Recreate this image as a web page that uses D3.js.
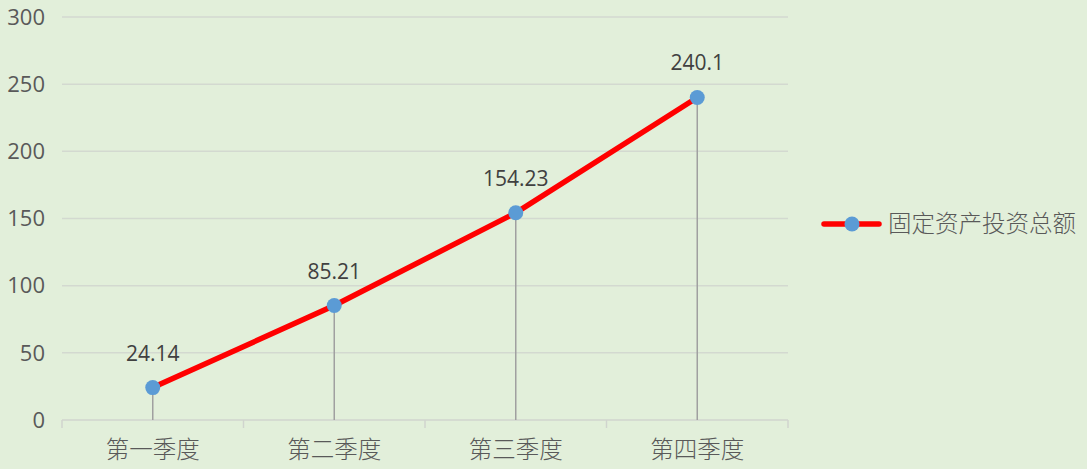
<!DOCTYPE html>
<html><head><meta charset="utf-8">
<script src="https://cdn.jsdelivr.net/npm/d3@7/dist/d3.min.js"></script>
<style>
html,body{margin:0;padding:0;background:#E2EFDA;}
svg{display:block;}
</style></head>
<body>
<svg id="chart" width="1087" height="469"></svg>
<script>
const categories = ["第一季度","第二季度","第三季度","第四季度"];
const values = [24.14, 85.21, 154.23, 240.1];
const labels = ["24.14","85.21","154.23","240.1"];
const yTicks = [0,50,100,150,200,250,300];
const seriesName = "固定资产投资总额";

const svg = d3.select("#chart");
svg.append("rect").attr("width",1087).attr("height",469).attr("fill","#E2EFDA");

const x = d3.scaleBand().domain(categories).range([62,788]);
const y = d3.scaleLinear().domain([0,300]).range([420,17]);

// gridlines
svg.append("g").selectAll("line").data(yTicks.filter(d=>d>0)).join("line")
  .attr("x1",62).attr("x2",788)
  .attr("y1",d=>y(d)).attr("y2",d=>y(d))
  .attr("stroke","#D3D9D0").attr("stroke-width",1.5);

// y labels
svg.append("g").selectAll("text").data(yTicks).join("text")
  .attr("x",45).attr("y",d=>y(d)).attr("dy","0.35em")
  .attr("text-anchor","end")
  .attr("font-family","'Open Sans','Noto Sans',sans-serif")
  .attr("font-size",22).attr("fill","#595959")
  .text(d=>d);

// x axis
const gx = svg.append("g").attr("transform","translate(0,420)");
gx.append("line").attr("x1",62).attr("x2",788).attr("stroke","#D0D4CE").attr("stroke-width",1.5);
const bounds = categories.map(c=>x(c)).concat([x.range()[1]]);
gx.selectAll("line.tk").data(bounds).join("line").attr("class","tk")
  .attr("x1",d=>d).attr("x2",d=>d).attr("y1",0).attr("y2",8)
  .attr("stroke","#D0D4CE").attr("stroke-width",1.5);
gx.selectAll("text").data(categories).join("text")
  .attr("x",d=>x(d)+x.bandwidth()/2).attr("y",38)
  .attr("text-anchor","middle")
  .attr("font-family","'Noto Sans CJK SC',sans-serif").attr("font-weight",300)
  .attr("font-size",23.5).attr("fill","#595959")
  .text(d=>d);

const cx = (d,i)=>x(categories[i])+x.bandwidth()/2;

// drop lines
svg.append("g").selectAll("line").data(values).join("line")
  .attr("x1",cx).attr("x2",cx).attr("y1",d=>y(d)).attr("y2",y(0))
  .attr("stroke","#A0A0A0").attr("stroke-width",1.5);

// line
const line = d3.line().x((d,i)=>cx(d,i)).y(d=>y(d));
svg.append("path").datum(values).attr("d",line)
  .attr("fill","none").attr("stroke","#FF0000").attr("stroke-width",5.5).attr("stroke-linecap","round");

// markers
svg.append("g").selectAll("circle").data(values).join("circle")
  .attr("cx",cx).attr("cy",d=>y(d)).attr("r",7.5).attr("fill","#5B9BD5");

// data labels
svg.append("g").selectAll("text").data(values).join("text")
  .attr("x",cx).attr("y",d=>y(d)-27)
  .attr("text-anchor","middle")
  .attr("font-family","'Open Sans','Noto Sans',sans-serif")
  .attr("font-size",21).attr("fill","#404040")
  .text((d,i)=>labels[i]);

// legend
const lg = svg.append("g").attr("transform","translate(0,224)");
lg.append("line").attr("x1",824).attr("x2",879).attr("y1",0).attr("y2",0)
  .attr("stroke","#FF0000").attr("stroke-width",5.5).attr("stroke-linecap","round");
lg.append("circle").attr("cx",852).attr("cy",0).attr("r",7.5).attr("fill","#5B9BD5");
lg.append("text").attr("x",888).attr("y",0).attr("dy","0.35em")
  .attr("font-family","'Noto Sans CJK SC',sans-serif").attr("font-weight",300)
  .attr("font-size",23.5).attr("fill","#595959").text(seriesName);
</script>
</body></html>
